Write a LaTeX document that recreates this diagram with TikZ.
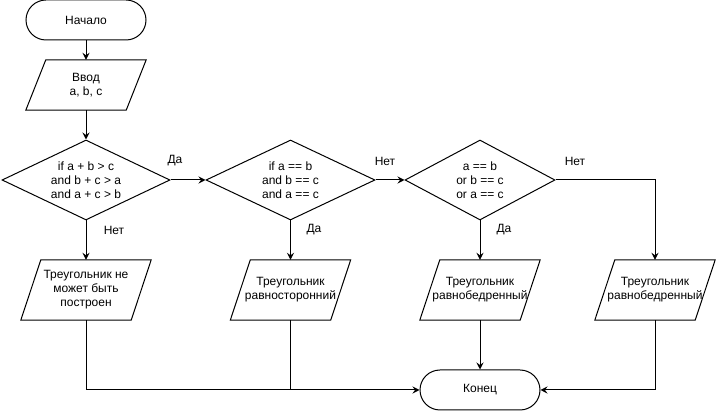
\documentclass[tikz,border=0pt]{standalone}
\usepackage{fontspec}
\setmainfont{Liberation Sans}
\usetikzlibrary{shapes.geometric,arrows.meta}
\newcommand\iobox[1]{\draw[line width=1pt] ([xshift=20pt]#1.north west) -- (#1.north east) -- ([xshift=-20pt]#1.south east) -- (#1.south west) -- cycle;}
\begin{document}
\begin{tikzpicture}[x=1pt,y=-1pt,
 every node/.style={font=\fontsize{12}{14}\selectfont},
 line/.style={draw=black, line width=1pt},
 arr/.style={line, -{Stealth[length=7pt,width=7pt,inset=2.5pt]}},
 term/.style={draw, line width=1pt, rounded corners=20pt, minimum width=120pt, minimum height=40pt, inner sep=0pt},
 dec/.style={draw, line width=1pt, diamond, inner sep=0pt, minimum height=80pt},
 txt/.style={align=center, inner sep=0pt},
 io/.style={align=center, minimum width=120pt, minimum height=60pt, inner sep=0pt},
 lbl/.style={inner sep=0pt}
]
\useasboundingbox (0,0) rectangle (716,411);
\node[term] (start) at (86,20) {Начало};
\node[io, minimum height=50pt] (inp) at (86,85) {Ввод\\a, b, c};
\iobox{inp}
\node[dec, minimum width=168pt] (d1) at (86,180) {};
\node[txt] (t1) at (d1) {if a + b > c\\and b + c > a\\and a + c > b};
\node[dec, minimum width=169pt] (d2) at (290.5,180) {};
\node[txt] (t2) at (d2) {if a == b\\and b == c\\and a == c};
\node[dec, minimum width=150pt] (d3) at (480,180) {};
\node[txt] (t3) at (d3) {a == b\\or b == c\\or a == c};
\node[io, minimum width=130pt] (p1) at (86,290) {Треугольник не\\может быть\\построен};
\iobox{p1}
\node[io] (p2) at (290.5,290) {Треугольник\\равносторонний};
\iobox{p2}
\node[io] (p3) at (480,290) {Треугольник\\равнобедренный};
\iobox{p3}
\node[io] (p4) at (655,290) {Треугольник\\равнобедренный};
\iobox{p4}
\node[term] (end) at (480,390) {Конец};
\draw[arr] (start) -- (inp);
\draw[arr] (inp) -- (d1);
\draw[arr] (d1.east) -- (d2.west);
\draw[arr] (d2.east) -- (d3.west);
\draw[arr] (d1.south) -- (p1.north);
\draw[arr] (d2.south) -- (p2.north);
\draw[arr] (d3.south) -- (p3.north);
\draw[arr] (d3.east) -| (p4.north);
\draw[arr] (p1.south) |- (end.west);
\coordinate (j2) at (p2.south |- end.west);
\draw[line] (p2.south) -- (j2);
\draw[arr] (p3.south) -- (end.north);
\draw[arr] (p4.south) |- (end.east);
\node[lbl] (l1) at (175,161) {Да};
\node[lbl] (l2) at (114,230) {Нет};
\node[lbl] (l3) at (314,230) {Да};
\node[lbl] (l4) at (385,161) {Нет};
\node[lbl] (l5) at (504,230) {Да};
\node[lbl] (l6) at (575,161) {Нет};
\end{tikzpicture}
\end{document}
